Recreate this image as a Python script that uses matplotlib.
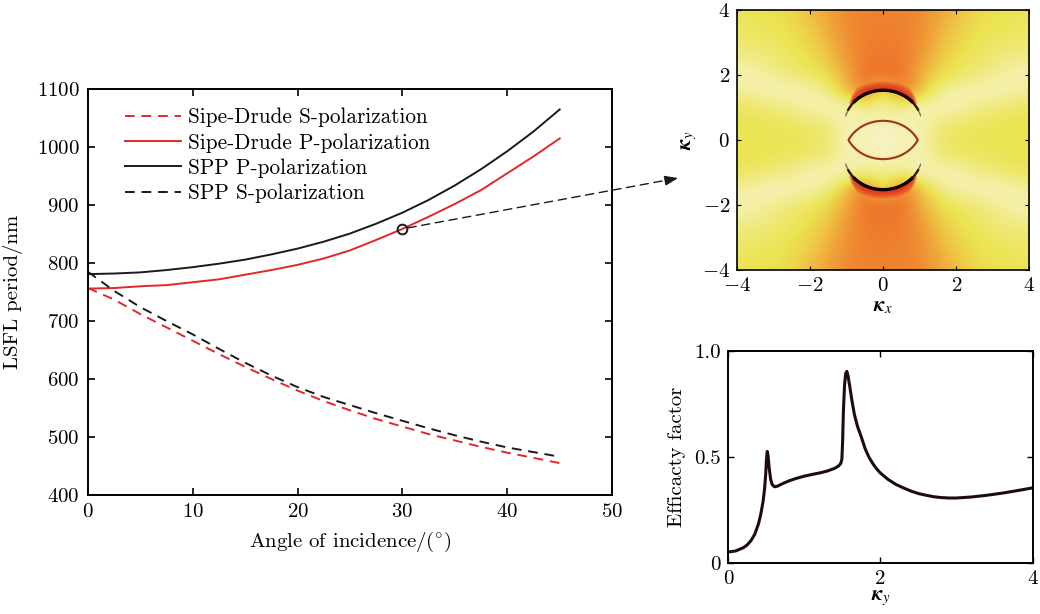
import numpy as np
import matplotlib
matplotlib.use("Agg")
import matplotlib.pyplot as plt
from matplotlib.colors import LinearSegmentedColormap
from matplotlib.patches import Arc

plt.rcParams['font.family'] = 'serif'
plt.rcParams['font.serif'] = ['cmr10']
plt.rcParams['mathtext.fontset'] = 'cm'
plt.rcParams['axes.unicode_minus'] = False
plt.rcParams['axes.formatter.use_mathtext'] = True

# --- main plot: LSFL period vs angle of incidence ---
angle = [0, 2.5, 5, 7.5, 10, 12.5, 15, 17.5, 20, 22.5, 25, 27.5, 30, 32.5, 35, 37.5, 40, 42.5, 45]
sd_s = [757, 737, 712, 689, 666, 643, 621, 600, 580, 562, 546, 531, 518, 505, 494, 483, 473, 464, 455]
sd_p = [756, 757, 760, 762, 767, 772, 780, 788, 797, 808, 822, 840, 859, 880, 902, 926, 955, 984, 1015]
spp_p = [781, 782, 784, 788, 793, 799, 806, 815, 825, 837, 851, 868, 887, 909, 934, 962, 993, 1027, 1065]
spp_s = [785, 752, 724, 700, 677, 652, 628, 606, 586, 569, 555, 541, 528, 515, 503, 492, 482, 474, 466]
marked_angle = 30
marked_period = 859

# --- efficacy factor along kappa_y ---
kappa = [0.0, 0.1, 0.2, 0.25, 0.3, 0.35, 0.4, 0.43, 0.46, 0.48, 0.495, 0.505, 0.515, 0.525, 0.54,
         0.56, 0.58, 0.61, 0.65, 0.7, 0.8, 0.9, 1.0, 1.1, 1.2, 1.3, 1.4, 1.45, 1.48, 1.495,
         1.505, 1.515, 1.53, 1.545, 1.56, 1.575, 1.6, 1.63, 1.66, 1.7, 1.75, 1.8, 1.85, 1.9,
         1.95, 2.0, 2.1, 2.2, 2.3, 2.4, 2.5, 2.6, 2.7, 2.8, 2.9, 3.0, 3.2, 3.4, 3.6, 3.8, 4.0]
efficacy = [0.052, 0.057, 0.072, 0.085, 0.105, 0.135, 0.185, 0.23, 0.29, 0.35, 0.42, 0.49, 0.527, 0.51, 0.45,
            0.395, 0.37, 0.36, 0.363, 0.372, 0.388, 0.40, 0.41, 0.418, 0.425, 0.434, 0.447, 0.458, 0.47, 0.49,
            0.58, 0.72, 0.84, 0.895, 0.905, 0.885, 0.83, 0.76, 0.70, 0.645, 0.595, 0.54, 0.50, 0.47,
            0.445, 0.425, 0.395, 0.372, 0.355, 0.34, 0.328, 0.32, 0.313, 0.309, 0.307, 0.307, 0.312, 0.32, 0.33, 0.342, 0.355]

# --- efficacy map, one quadrant (rows ky = 0..4, cols kx = 0..4, step 0.5) ---
grid_step = 0.5
quad = [
    [0.13, 0.16, 0.15, 0.27, 0.29, 0.30, 0.30, 0.30, 0.30],
    [0.15, 0.19, 0.18, 0.24, 0.27, 0.28, 0.29, 0.30, 0.30],
    [0.21, 0.21, 0.14, 0.17, 0.17, 0.22, 0.25, 0.27, 0.28],
    [0.24, 0.60, 0.40, 0.22, 0.18, 0.17, 0.15, 0.18, 0.21],
    [0.64, 0.60, 0.45, 0.33, 0.28, 0.25, 0.22, 0.18, 0.16],
    [0.60, 0.58, 0.50, 0.38, 0.31, 0.28, 0.25, 0.23, 0.22],
    [0.58, 0.57, 0.52, 0.42, 0.34, 0.30, 0.28, 0.27, 0.26],
    [0.57, 0.56, 0.53, 0.45, 0.37, 0.32, 0.30, 0.29, 0.28],
    [0.56, 0.56, 0.54, 0.48, 0.40, 0.34, 0.31, 0.30, 0.29],
]
ring_offset = 0.47
ring_radius = 1.06

red = '#e3262b'
dark = '#1a1a1a'

fig = plt.figure(figsize=(10.4, 6.14), dpi=100)

ax = fig.add_axes([0.0846, 0.1938, 0.504, 0.661])
ax.plot(angle, sd_s, color=red, lw=1.4, dashes=(5, 3.5), label='Sipe-Drude S-polarization')
ax.plot(angle, sd_p, color=red, lw=1.4, label='Sipe-Drude P-polarization')
ax.plot(angle, spp_p, color=dark, lw=1.4, label='SPP P-polarization')
ax.plot(angle, spp_s, color=dark, lw=1.4, dashes=(5, 3.5), label='SPP S-polarization')
ax.plot([marked_angle], [marked_period], 'o', mfc='none', mec=dark, mew=1.4, ms=7)
ax.set_xlim(0, 50)
ax.set_ylim(400, 1100)
ax.set_xticks(range(0, 51, 10))
ax.set_yticks(range(400, 1101, 100))
ax.tick_params(direction='in', top=True, right=True, length=5, width=1.2, labelsize=15, pad=6)
for s in ax.spines.values():
    s.set_linewidth(1.4)
ax.set_xlabel(r'Angle of incidence/(${}^{\circ}$)', fontsize=15, labelpad=6)
ax.set_ylabel('LSFL period/nm', fontsize=15, labelpad=10)
ax.legend(loc='upper left', bbox_to_anchor=(0.055, 0.975), frameon=False, fontsize=15.3,
          handlelength=2.6, labelspacing=0.27, borderaxespad=0, handletextpad=0.35)

# dashed arrow from the marked point to the map
tip = (0.652, 0.710)
ax.annotate('', xy=tip, xycoords='figure fraction', xytext=(marked_angle, marked_period),
            textcoords='data', annotation_clip=False,
            arrowprops=dict(arrowstyle='-', color=dark, lw=1.0, linestyle=(0, (6, 4)),
                            shrinkA=4, shrinkB=0))
ax.annotate('', xy=tip, xycoords='figure fraction', xytext=(tip[0] - 0.012, tip[1] - 0.004),
            textcoords='figure fraction', annotation_clip=False,
            arrowprops=dict(arrowstyle='-|>,head_length=0.8,head_width=0.3', color=dark, lw=1.0,
                            shrinkA=0, shrinkB=0))

# --- map ---
cmap = LinearSegmentedColormap.from_list('eff', [
    (0.00, '#fffdf2'), (0.14, '#f7f4c8'), (0.30, '#ebe452'), (0.42, '#f0b640'),
    (0.55, '#ef8530'), (0.65, '#ec6a28'), (0.75, '#e23a1e'), (0.88, '#a81410'), (1.00, '#1a0000')])
q = np.array(quad)
half = np.hstack([q[:, :0:-1], q])
full = np.vstack([half[:0:-1], half])
lim = 4 + grid_step / 2

axm = fig.add_axes([0.7087, 0.5603, 0.281, 0.4235])
axm.imshow(full, origin='lower', extent=[-lim, lim, -lim, lim], cmap=cmap, vmin=0, vmax=1,
           interpolation='bicubic', aspect='auto')
for sgn in (1, -1):
    c = (0, sgn * ring_offset)
    base = 90 if sgn > 0 else 270
    # soft red glow just outside the bright ring
    for k in range(8, 0, -1):
        d = 2 * (ring_radius + 0.03 * k)
        axm.add_patch(Arc(c, d, d, theta1=base - 58 + 3 * k, theta2=base + 58 - 3 * k,
                          color='#e0281a', lw=2.6, alpha=0.12 + 0.05 * (8 - k)))
    axm.add_patch(Arc(c, 2 * ring_radius, 2 * ring_radius, theta1=base - 76, theta2=base + 76,
                      color='#8a6a50', lw=1.0))
    axm.add_patch(Arc(c, 2 * ring_radius, 2 * ring_radius, theta1=base - 66, theta2=base + 66,
                      color='#3a1008', lw=1.7))
    axm.add_patch(Arc(c, 2 * ring_radius, 2 * ring_radius, theta1=base - 50, theta2=base + 50,
                      color='#100202', lw=2.4))
    inner = 270 if sgn > 0 else 90
    axm.add_patch(Arc(c, 2 * ring_radius, 2 * ring_radius, theta1=inner - 64, theta2=inner + 64,
                      color='#a0321a', lw=1.5))
axm.set_xlim(-4, 4)
axm.set_ylim(-4, 4)
ticks = [-4, -2, 0, 2, 4]
labels = [r'$-4$', r'$-2$', r'$0$', r'$2$', r'$4$']
axm.set_xticks(ticks, labels)
axm.set_yticks(ticks, labels)
axm.tick_params(direction='in', top=True, right=True, length=3, width=0.8, labelsize=15, pad=5)
for s in axm.spines.values():
    s.set_linewidth(1.2)
axm.set_xlabel(r'$\mathbfit{\kappa}_x$', fontsize=15, labelpad=2, math_fontfamily='stix')
axm.set_ylabel(r'$\mathbfit{\kappa}_y$', fontsize=15, labelpad=2, math_fontfamily='stix')

# --- efficacy curve ---
axe = fig.add_axes([0.700, 0.083, 0.293, 0.345])
axe.plot(kappa, efficacy, color='#1e0c0c', lw=2.2)
axe.set_xlim(0, 4)
axe.set_ylim(0, 1)
axe.set_xticks([0, 2, 4], ['0', '2', '4'])
axe.set_yticks([0, 0.5, 1.0], ['0', '0.5', '1.0'])
axe.tick_params(direction='in', top=True, right=True, length=4, width=1.0, labelsize=15, pad=5)
for s in axe.spines.values():
    s.set_linewidth(1.4)
axe.set_xlabel(r'$\mathbfit{\kappa}_y$', fontsize=15, labelpad=0, math_fontfamily='stix')
axe.set_ylabel('Efficacty factor', fontsize=15, labelpad=6)

fig.savefig('out.png', dpi=100)
